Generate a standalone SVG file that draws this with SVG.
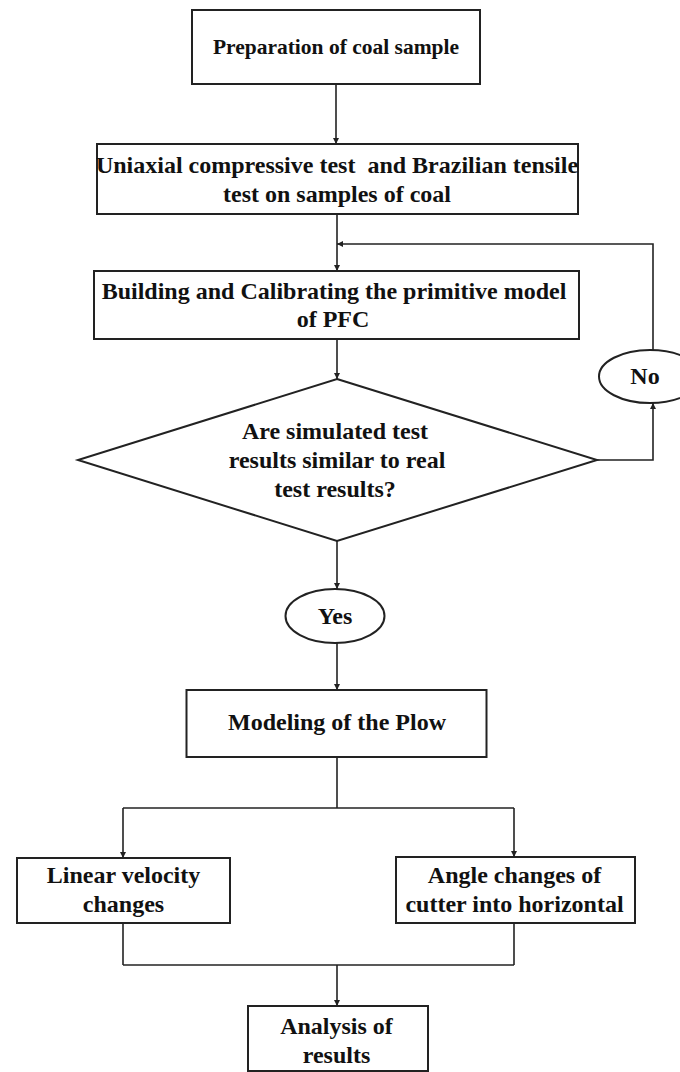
<svg xmlns="http://www.w3.org/2000/svg" width="680" height="1072" viewBox="0 0 680 1072">
<style>
.box{fill:#fff;stroke:#222;stroke-width:2}
.ln{fill:none;stroke:#222;stroke-width:1.6}
.t{font-family:"Liberation Serif","Times New Roman",serif;font-weight:bold;font-size:24px;fill:#111;text-anchor:middle;white-space:pre}
</style>
<defs>
<marker id="ah" viewBox="0 0 10 10" refX="10" refY="5" markerWidth="6" markerHeight="6" orient="auto" markerUnits="userSpaceOnUse">
<path d="M0,0 L10,5 L0,10 z" fill="#222"/>
</marker>
</defs>
<rect width="680" height="1072" fill="#fff"/>
<g id="connectors">
<line class="ln" x1="336" y1="84" x2="336" y2="144" marker-end="url(#ah)"/>
<line class="ln" x1="337" y1="214" x2="337" y2="271" marker-end="url(#ah)"/>
<polyline class="ln" points="653,350 653,244 337,244" marker-end="url(#ah)"/>
<line class="ln" x1="337" y1="339" x2="337" y2="379" marker-end="url(#ah)"/>
<polyline class="ln" points="597,460 653,460 653,403" marker-end="url(#ah)"/>
<line class="ln" x1="337" y1="541" x2="337" y2="589" marker-end="url(#ah)"/>
<line class="ln" x1="337" y1="643" x2="337" y2="690" marker-end="url(#ah)"/>
<line class="ln" x1="337" y1="757" x2="337" y2="808"/>
<line class="ln" x1="123" y1="808" x2="514" y2="808"/>
<line class="ln" x1="123" y1="808" x2="123" y2="858" marker-end="url(#ah)"/>
<line class="ln" x1="514" y1="808" x2="514" y2="857" marker-end="url(#ah)"/>
<line class="ln" x1="123" y1="923" x2="123" y2="965"/>
<line class="ln" x1="514" y1="923" x2="514" y2="965"/>
<line class="ln" x1="123" y1="965" x2="514" y2="965"/>
<line class="ln" x1="337" y1="965" x2="337" y2="1006" marker-end="url(#ah)"/>
</g>
<g id="n1">
<rect class="box" x="192" y="10" width="288" height="74"/>
<text class="t" x="336" y="54" style="font-size:21.5px">Preparation of coal sample</text>
</g>
<g id="n2">
<rect class="box" x="97" y="144" width="481" height="70"/>
<text class="t" x="337" y="173" xml:space="preserve">Uniaxial compressive test  and Brazilian tensile</text>
<text class="t" x="337" y="202">test on samples of coal</text>
</g>
<g id="n3">
<rect class="box" x="94" y="271" width="485" height="68"/>
<text class="t" x="334" y="299">Building and Calibrating the primitive model</text>
<text class="t" x="333" y="327">of PFC</text>
</g>
<g id="n4">
<polygon class="box" points="337,379 597,460 337,541 78,460"/>
<text class="t" x="335" y="439">Are simulated test</text>
<text class="t" x="337" y="468">results similar to real</text>
<text class="t" x="335" y="497">test results?</text>
</g>
<g id="n5">
<ellipse class="box" cx="650" cy="376.5" rx="51" ry="26.5"/>
<text class="t" x="645" y="384">No</text>
</g>
<g id="n6">
<ellipse class="box" cx="335" cy="616" rx="49.5" ry="27"/>
<text class="t" x="335" y="624">Yes</text>
</g>
<g id="n7">
<rect class="box" x="186.5" y="690" width="300" height="67"/>
<text class="t" x="337" y="730">Modeling of the Plow</text>
</g>
<g id="n8">
<rect class="box" x="17" y="858" width="213" height="65"/>
<text class="t" x="123.5" y="883">Linear velocity</text>
<text class="t" x="123.5" y="912">changes</text>
</g>
<g id="n9">
<rect class="box" x="396" y="857" width="239" height="66"/>
<text class="t" x="514.5" y="883">Angle changes of</text>
<text class="t" x="514.5" y="912">cutter into horizontal</text>
</g>
<g id="n10">
<rect class="box" x="248" y="1006" width="180" height="65"/>
<text class="t" x="336.5" y="1034">Analysis of</text>
<text class="t" x="336.5" y="1063">results</text>
</g>
</svg>
